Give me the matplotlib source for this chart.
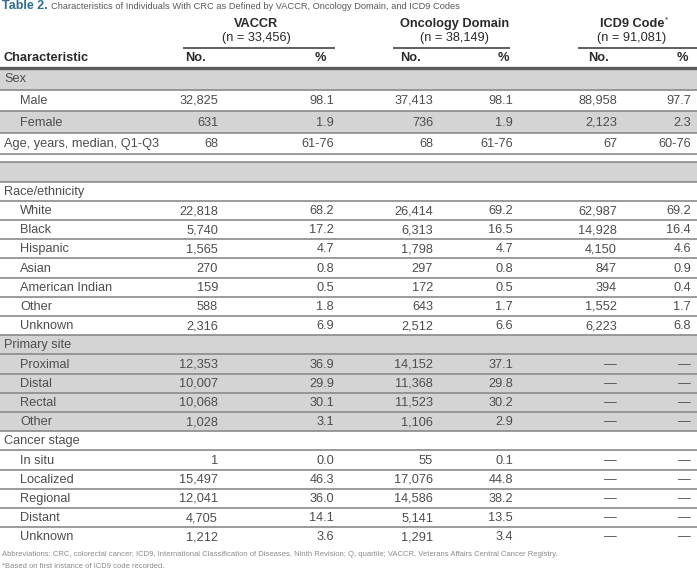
import matplotlib
matplotlib.use("Agg")
import matplotlib.pyplot as plt
from matplotlib import font_manager
from matplotlib.patches import Rectangle

# ---- table content ----
title_bold = "Table 2."
title_rest = "Characteristics of Individuals With CRC as Defined by VACCR, Oncology Domain, and ICD9 Codes"

groups = ["VACCR", "Oncology Domain", "ICD9 Code"]
group_n = ["(n = 33,456)", "(n = 38,149)", "(n = 91,081)"]

row_labels = ["Sex", "Male", "Female", "Age, years, median, Q1-Q3", "", "",
              "Race/ethnicity", "White", "Black", "Hispanic", "Asian", "American Indian", "Other", "Unknown",
              "Primary site", "Proximal", "Distal", "Rectal", "Other",
              "Cancer stage", "In situ", "Localized", "Regional", "Distant", "Unknown"]
indented = [False, True, True, False, False, False,
            False, True, True, True, True, True, True, True,
            False, True, True, True, True,
            False, True, True, True, True, True]

vaccr_no = ["", "32,825", "631", "68", "", "",
            "", "22,818", "5,740", "1,565", "270", "159", "588", "2,316",
            "", "12,353", "10,007", "10,068", "1,028",
            "", "1", "15,497", "12,041", "4,705", "1,212"]
vaccr_pct = ["", "98.1", "1.9", "61-76", "", "",
             "", "68.2", "17.2", "4.7", "0.8", "0.5", "1.8", "6.9",
             "", "36.9", "29.9", "30.1", "3.1",
             "", "0.0", "46.3", "36.0", "14.1", "3.6"]
onc_no = ["", "37,413", "736", "68", "", "",
          "", "26,414", "6,313", "1,798", "297", "172", "643", "2,512",
          "", "14,152", "11,368", "11,523", "1,106",
          "", "55", "17,076", "14,586", "5,141", "1,291"]
onc_pct = ["", "98.1", "1.9", "61-76", "", "",
           "", "69.2", "16.5", "4.7", "0.8", "0.5", "1.7", "6.6",
           "", "37.1", "29.8", "30.2", "2.9",
           "", "0.1", "44.8", "38.2", "13.5", "3.4"]
icd_no = ["", "88,958", "2,123", "67", "", "",
          "", "62,987", "14,928", "4,150", "847", "394", "1,552", "6,223",
          "", "\u2014", "\u2014", "\u2014", "\u2014",
          "", "\u2014", "\u2014", "\u2014", "\u2014", "\u2014"]
icd_pct = ["", "97.7", "2.3", "60-76", "", "",
           "", "69.2", "16.4", "4.6", "0.9", "0.4", "1.7", "6.8",
           "", "\u2014", "\u2014", "\u2014", "\u2014",
           "", "\u2014", "\u2014", "\u2014", "\u2014", "\u2014"]

footnotes = ["Abbreviations: CRC, colorectal cancer; ICD9, International Classification of Diseases, Ninth Revision; "
             "Q, quartile; VACCR, Veterans Affairs Central Cancer Registry.",
             "*Based on first instance of ICD9 code recorded."]

# ---- styling / layout ----
names = {f.name for f in font_manager.fontManager.ttflist}
FONT = "Liberation Sans Narrow" if "Liberation Sans Narrow" in names else "Liberation Sans"
plt.rcParams['font.family'] = [FONT, 'DejaVu Sans']

W, H = 697, 575
fig = plt.figure(figsize=(W / 100, H / 100), dpi=100)
ax = fig.add_axes([0, 0, 1, 1])
ax.set_xlim(0, W)
ax.set_ylim(H, 0)
ax.axis('off')

TXT = '#4d4d4d'
HDR = '#2a2a2a'
GRAY = '#d4d4d4'
LINE = '#8a8a8a'

# row heights in pixels
heights = [21.6] * 4 + [7.3, 20.0] + [19.2] * 19
shaded = {0, 2, 5, 14, 15, 16, 17, 18}

# title
t = ax.text(2, 6, title_bold, color='#2f6e8e', fontsize=9, fontweight='bold', va='center', ha='left')
fig.canvas.draw()
bb = t.get_window_extent()
ax.text(bb.x1 + 3, 6.5, title_rest, color='#5a5a5a', fontsize=6.7, va='center', ha='left')

# group headers
grp_center = [256, 455, 632]
grp_line = [(183, 335), (393, 510), (578, 697)]
for i, g in enumerate(groups):
    gt = ax.text(grp_center[i], 24, g, color=HDR, fontsize=9.2, fontweight='bold', ha='center', va='center')
    if i == 2:
        fig.canvas.draw()
        gb = gt.get_window_extent()
        ax.text(gb.x1 + 1, 20, "*", color=HDR, fontsize=6, ha='left', va='center')
    ax.text(grp_center[i], 38, group_n[i], color=HDR, fontsize=9.2, ha='center', va='center')
    ax.plot(grp_line[i], [48, 48], color='#444444', lw=1.2, solid_capstyle='butt')

# column header row
ax.text(4, 58, "Characteristic", color=HDR, fontsize=9.2, fontweight='bold', ha='left', va='center')
no_x = [185, 400, 588]
pct_x = [326, 509, 688]
for i in range(3):
    ax.text(no_x[i], 58, "No.", color=HDR, fontsize=9.2, fontweight='bold', ha='left', va='center')
    ax.text(pct_x[i], 58, "%", color=HDR, fontsize=9.2, fontweight='bold', ha='right', va='center')

# body
cols = [vaccr_no, vaccr_pct, onc_no, onc_pct, icd_no, icd_pct]
col_right = [218, 334, 433, 513, 617, 691]
y = 68.0
for r, lab in enumerate(row_labels):
    h = heights[r]
    if r in shaded:
        ax.add_patch(Rectangle((0, y), W, h, facecolor=GRAY, edgecolor='none', zorder=0))
    yc = y + h / 2 + 0.5
    if lab:
        ax.text(20 if indented[r] else 4, yc, lab, color=TXT, fontsize=9.2, ha='left', va='center')
    for c, vals in enumerate(cols):
        if vals[r]:
            ax.text(col_right[c], yc, vals[r], color=TXT, fontsize=9.2, ha='right', va='center')
    if r > 0:
        ax.plot([0, W], [y, y], color=LINE, lw=1.2, zorder=1)
    y += h

# thick rule under the column header
ax.plot([0, W], [68, 68], color='#5a5a5a', lw=2.4, zorder=2)

# footnotes
ax.text(2, 554, footnotes[0], color='#8a8a8a', fontsize=5.5, ha='left', va='center')
ax.text(2, 567, footnotes[1], color='#8a8a8a', fontsize=5.5, ha='left', va='center')

fig.savefig('out.png', dpi=100)
